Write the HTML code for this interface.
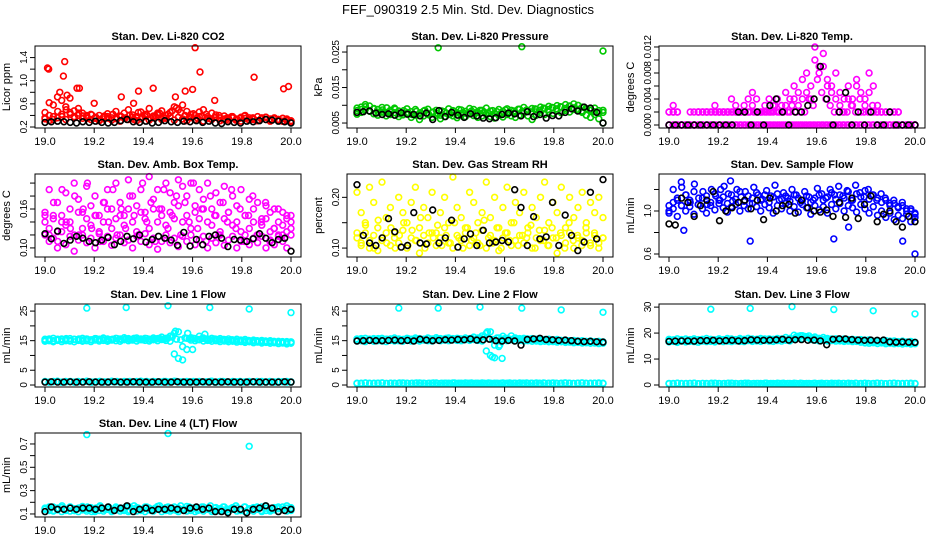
<!DOCTYPE html>
<html><head><meta charset="utf-8"><style>
html,body{margin:0;padding:0;background:#fff;}
svg{display:block;font-family:"Liberation Sans",sans-serif;}
</style></head><body>
<svg id="chart" width="936" height="540" viewBox="0 0 936 540">
<rect x="0" y="0" width="936" height="540" fill="#fff"/>
<text x="468" y="14" font-size="13" text-anchor="middle">FEF_090319  2.5 Min. Std. Dev. Diagnostics</text>
</svg>
<script>
// ---------- data ----------
const xTicks = [19.0, 19.2, 19.4, 19.6, 19.8, 20.0];
const xTickLabels = ["19.0","19.2","19.4","19.6","19.8","20.0"];

const co2A = [0.34,0.31,0.38,0.36,0.42,0.33,0.45,0.38,0.52,0.35,0.40,0.33,0.36,0.31,0.34,0.38,0.32,0.36,0.30,0.35,0.33,0.37,0.31,0.34,0.38,0.32,0.36,0.41,0.33,0.35,0.39,0.32,0.37,0.34,0.31,0.36,0.33,0.38,0.30,0.35,0.33,0.37,0.31,0.34,0.32,0.36,0.33,0.30,0.35,0.32,0.34,0.31,0.36,0.33,0.30,0.34,0.32,0.35,0.31,0.29];
const co2B = [0.45,0.62,0.58,0.72,0.66,0.55,0.70,0.48,0.40,0.44,0.38,0.42,0.35,0.40,0.37,0.43,0.36,0.47,0.39,0.44,0.50,0.41,0.38,0.46,0.42,0.52,0.39,0.44,0.48,0.40,0.45,0.55,0.50,0.58,0.47,0.42,0.40,0.46,0.50,0.38,0.44,0.41,0.36,0.39,0.35,0.38,0.34,0.37,0.40,0.36,0.33,0.38,0.35,0.37,0.34,0.36,0.33,0.35,0.32,0.30];
const co2C = [0.36,0.40,0.33,0.47,0.38,0.50,0.42,0.36,0.44,0.39,0.35,0.41,0.37,0.33,0.39,0.35,0.42,0.34,0.38,0.36,0.40,0.33,0.45,0.37,0.41,0.35,0.39,0.44,0.36,0.42,0.48,0.53,0.45,0.40,0.37,0.43,0.35,0.39,0.42,0.34,0.37,0.40,0.33,0.36,0.38,0.32,0.35,0.39,0.33,0.36,0.31,0.34,0.37,0.32,0.35,0.33,0.30,0.34,0.31];
const co2Out = [[19.01,1.22],[19.015,1.2],[19.08,1.33],[19.075,1.08],[19.13,0.87],[19.14,0.87],[19.61,1.57],[19.63,1.15],[19.85,1.06],[19.97,0.86],[19.99,0.9],[19.6,0.85],[19.57,0.82],[19.38,0.82],[19.44,0.87],[19.31,0.72],[19.53,0.72],[19.2,0.61],[19.36,0.61],[19.69,0.66],[19.06,0.8],[19.09,0.75]];
const co2K = [0.28,0.29,0.30,0.29,0.28,0.27,0.29,0.28,0.30,0.28,0.27,0.28,0.31,0.33,0.29,0.28,0.30,0.27,0.28,0.31,0.29,0.28,0.30,0.29,0.31,0.28,0.30,0.27,0.26,0.29,0.28,0.27,0.30,0.29,0.31,0.33,0.32,0.30,0.29,0.27];

const presA = [0.0085,0.0095,0.0102,0.0098,0.0090,0.0088,0.0094,0.0080,0.0086,0.0092,0.0084,0.0078,0.0090,0.0082,0.0088,0.0076,0.0084,0.0089,0.0080,0.0086,0.0072,0.0082,0.0090,0.0085,0.0079,0.0087,0.0083,0.0091,0.0088,0.0080,0.0086,0.0092,0.0084,0.0078,0.0088,0.0083,0.0090,0.0086,0.0080,0.0089,0.0094,0.0085,0.0091,0.0088,0.0095,0.0090,0.0097,0.0093,0.0099,0.0095,0.0102,0.0098,0.0104,0.0100,0.0095,0.0090,0.0086,0.0092,0.0085,0.0080];
const presB = [0.0075,0.0080,0.0088,0.0084,0.0076,0.0072,0.0081,0.0070,0.0074,0.0079,0.0068,0.0073,0.0077,0.0066,0.0072,0.0060,0.0070,0.0075,0.0066,0.0072,0.0062,0.0068,0.0074,0.0070,0.0065,0.0072,0.0068,0.0076,0.0071,0.0066,0.0070,0.0075,0.0068,0.0064,0.0072,0.0067,0.0074,0.0070,0.0066,0.0073,0.0078,0.0070,0.0060,0.0072,0.0080,0.0074,0.0082,0.0077,0.0084,0.0079,0.0086,0.0081,0.0088,0.0085,0.0080,0.0072,0.0066,0.0074,0.0062,0.0050];
const presC = [0.0092,0.0088,0.0096,0.0083,0.0091,0.0079,0.0087,0.0093,0.0081,0.0089,0.0076,0.0085,0.0080,0.0074,0.0083,0.0079,0.0086,0.0073,0.0081,0.0077,0.0084,0.0078,0.0075,0.0082,0.0088,0.0080,0.0076,0.0084,0.0079,0.0086,0.0081,0.0077,0.0085,0.0082,0.0078,0.0087,0.0080,0.0084,0.0089,0.0083,0.0087,0.0081,0.0090,0.0086,0.0092,0.0088,0.0094,0.0090,0.0096,0.0091,0.0097,0.0093,0.0089,0.0084,0.0091,0.0087,0.0082,0.0078,0.0086];
const presOut = [[19.33,0.0262],[19.67,0.0265],[20.0,0.0253]];
const presK = [0.0080,0.0082,0.0084,0.0078,0.0074,0.0076,0.0072,0.0079,0.0075,0.0074,0.0070,0.0078,0.0060,0.0085,0.0068,0.0080,0.0072,0.0066,0.0076,0.0070,0.0064,0.0062,0.0065,0.0074,0.0078,0.0076,0.0070,0.0082,0.0068,0.0074,0.0064,0.0071,0.0070,0.0080,0.0090,0.0084,0.0095,0.0092,0.0080,0.0050];

const tempA = [0.002,0.003,0.002,0,0,0,0.002,0.002,0,0.002,0.002,0.003,0.002,0.002,0.002,0.004,0.002,0.002,0.003,0.004,0.005,0.004,0.002,0.003,0.004,0.002,0.004,0.003,0.005,0.004,0.006,0.005,0.007,0.008,0.006,0.012,0.009,0.011,0.007,0.006,0.008,0.005,0.004,0.006,0.004,0.007,0.005,0.004,0.008,0.006,0.003,0.002,0.002,0.002,0.002,0.002,0,0,0,0];
const tempB = [0.002,0.002,0,0,0,0,0,0.002,0.002,0.002,0,0.002,0.002,0.002,0.002,0.002,0.003,0.002,0.002,0.002,0.003,0.002,0.002,0.002,0.002,0.003,0.002,0.002,0.003,0.002,0.004,0.003,0.004,0.005,0.004,0.010,0.008,0.009,0.006,0.005,0.004,0.003,0.002,0.004,0.003,0.006,0.002,0.003,0.005,0.002,0.002,0.002,0.002,0.002,0.002,0.002,0,0,0,0];
const tempC = [0,0.002,0.002,0,0,0.002,0,0.002,0.002,0.002,0.002,0.002,0.002,0.002,0.002,0.002,0.002,0.002,0.002,0.002,0.002,0.002,0.002,0.002,0.002,0.003,0.002,0.002,0.002,0.003,0.002,0.002,0.002,0.004,0.003,0.007,0.005,0.004,0.003,0.002,0.002,0.002,0.002,0.003,0.002,0.004,0.002,0.002,0.003,0.002,0.002,0,0,0,0,0,0,0,0];
const tempZero = [0,0,0,0,0,0,0,0,0,0,0,0,0,0,0,0,0,0,0,0,0,0,0,0,0,0,0,0,0,0,0,0,0,0,0,0,0,0,0,0,0,0,0,0,0,0,0,0,0,0,0,0,0,0,0,0,0,0,0,0];
const tempZero2 = [0,0,0,0,0,0,0,0,0,0,0,0,0,0,0,0,0,0,0,0,0,0,0,0,0,0,0,0,0,0,0,0,0,0,0,0,0,0,0,0,0,0,0,0,0,0,0,0,0,0,0,0,0,0,0,0,0,0,0];
const tempK = [0,0,0,0,0,0,0,0,0,0,0,0.002,0.002,0,0.002,0,0.003,0.004,0.002,0,0.002,0.002,0.003,0.004,0.009,0.004,0,0.002,0.005,0,0.002,0,0.002,0,0,0.002,0,0,0,0];

const ambA = [0.155,0.19,0.15,0.17,0.14,0.185,0.16,0.2,0.175,0.155,0.195,0.165,0.18,0.15,0.17,0.19,0.16,0.2,0.17,0.15,0.205,0.18,0.165,0.19,0.155,0.21,0.175,0.19,0.16,0.2,0.185,0.17,0.205,0.195,0.18,0.2,0.165,0.19,0.175,0.2,0.16,0.185,0.17,0.195,0.155,0.18,0.165,0.19,0.15,0.175,0.16,0.17,0.145,0.165,0.155,0.16,0.14,0.155,0.145,0.15];
const ambB = [0.14,0.13,0.145,0.125,0.15,0.135,0.14,0.12,0.155,0.13,0.145,0.135,0.15,0.125,0.14,0.16,0.13,0.145,0.15,0.135,0.16,0.14,0.125,0.155,0.145,0.13,0.16,0.14,0.15,0.135,0.155,0.145,0.165,0.14,0.15,0.13,0.155,0.145,0.16,0.14,0.135,0.15,0.125,0.145,0.155,0.135,0.14,0.125,0.15,0.13,0.14,0.12,0.135,0.145,0.125,0.13,0.12,0.135,0.125,0.14];
const ambC = [0.12,0.11,0.115,0.1,0.125,0.105,0.118,0.095,0.112,0.12,0.108,0.115,0.1,0.122,0.11,0.118,0.104,0.115,0.12,0.108,0.112,0.1,0.118,0.11,0.122,0.105,0.115,0.098,0.11,0.12,0.108,0.115,0.102,0.118,0.11,0.12,0.105,0.112,0.118,0.1,0.115,0.108,0.12,0.104,0.112,0.118,0.1,0.11,0.12,0.105,0.115,0.108,0.118,0.1,0.112,0.105,0.118,0.11,0.1,0.12];
const ambD = [0.15,0.12,0.17,0.11,0.19,0.14,0.13,0.18,0.12,0.16,0.2,0.13,0.15,0.11,0.17,0.14,0.19,0.12,0.16,0.13,0.18,0.15,0.12,0.2,0.14,0.17,0.11,0.16,0.19,0.13,0.15,0.18,0.12,0.17,0.14,0.2,0.13,0.16,0.11,0.18,0.15,0.12,0.17,0.14,0.19,0.13,0.16,0.11,0.15,0.18,0.12,0.14,0.17,0.11,0.13,0.16,0.12,0.15,0.13];
const ambK = [0.122,0.114,0.126,0.107,0.112,0.118,0.115,0.11,0.108,0.112,0.116,0.105,0.11,0.118,0.114,0.12,0.109,0.113,0.118,0.115,0.112,0.104,0.124,0.103,0.113,0.105,0.118,0.12,0.115,0.102,0.113,0.112,0.11,0.114,0.122,0.115,0.108,0.113,0.115,0.095];

const rhA = [0.12,0.11,0.13,0.1,0.125,0.095,0.115,0.13,0.105,0.12,0.11,0.135,0.1,0.12,0.115,0.09,0.125,0.11,0.13,0.105,0.12,0.14,0.11,0.1,0.125,0.115,0.13,0.105,0.12,0.11,0.135,0.1,0.125,0.115,0.095,0.12,0.13,0.105,0.115,0.125,0.11,0.13,0.1,0.12,0.115,0.135,0.105,0.12,0.09,0.125,0.11,0.13,0.1,0.12,0.115,0.13,0.105,0.125,0.11,0.12];
const rhB = [0.21,0.17,0.15,0.22,0.19,0.14,0.23,0.16,0.18,0.13,0.2,0.17,0.15,0.19,0.22,0.14,0.18,0.16,0.21,0.13,0.17,0.2,0.15,0.24,0.18,0.16,0.14,0.21,0.19,0.15,0.17,0.23,0.16,0.2,0.14,0.18,0.22,0.15,0.19,0.17,0.21,0.14,0.18,0.16,0.2,0.23,0.15,0.19,0.17,0.22,0.14,0.2,0.16,0.18,0.21,0.15,0.19,0.17,0.2,0.16];
const rhC = [0.13,0.105,0.145,0.115,0.1,0.155,0.12,0.11,0.14,0.1,0.125,0.15,0.105,0.135,0.115,0.16,0.1,0.13,0.12,0.145,0.105,0.125,0.11,0.15,0.12,0.1,0.14,0.115,0.13,0.105,0.155,0.12,0.11,0.14,0.1,0.13,0.115,0.15,0.105,0.125,0.12,0.145,0.1,0.135,0.115,0.105,0.14,0.12,0.13,0.1,0.15,0.115,0.125,0.105,0.14,0.11,0.13,0.1,0.12];
const rhK = [0.225,0.125,0.11,0.105,0.12,0.158,0.132,0.102,0.105,0.17,0.11,0.108,0.175,0.11,0.12,0.155,0.102,0.118,0.128,0.105,0.135,0.11,0.112,0.115,0.112,0.215,0.18,0.105,0.162,0.118,0.122,0.19,0.105,0.165,0.125,0.095,0.112,0.21,0.118,0.235];

const flowA = [1.0,1.08,1.12,1.05,1.15,1.1,1.18,1.06,1.12,1.14,1.08,1.16,1.1,1.13,1.07,1.15,1.11,1.18,1.09,1.14,1.12,1.17,1.1,1.15,1.08,1.13,1.16,1.11,1.14,1.09,1.15,1.12,1.1,1.14,1.08,1.12,1.15,1.1,1.13,1.17,1.11,1.15,1.12,1.18,1.1,1.16,1.13,1.19,1.11,1.15,1.12,1.08,1.1,1.05,1.07,1.03,1.05,1.0,1.02,0.97];
const flowB = [0.98,1.02,0.95,1.05,1.0,1.04,0.97,1.06,1.02,0.98,1.05,1.01,1.07,1.03,0.99,1.04,1.06,1.0,1.05,1.02,1.07,1.04,1.0,1.06,1.03,0.98,1.05,1.02,1.07,1.0,1.04,0.99,1.06,1.03,0.97,1.05,1.01,1.04,0.98,1.06,1.02,1.07,1.0,1.05,1.03,0.99,1.06,1.02,0.98,1.04,0.96,1.0,0.94,0.98,0.92,0.96,0.93,0.97,0.9,0.94];
const flowC = [1.05,1.2,1.1,1.22,1.15,1.08,1.25,1.12,1.18,1.06,1.2,1.14,1.1,1.23,1.16,1.09,1.2,1.13,1.18,1.07,1.22,1.15,1.11,1.19,1.14,1.24,1.1,1.17,1.12,1.2,1.15,1.08,1.18,1.13,1.1,1.21,1.16,1.12,1.2,1.15,1.23,1.14,1.19,1.1,1.24,1.17,1.13,1.2,1.15,1.1,1.16,1.12,1.07,1.1,1.04,1.08,1.02,1.0,0.98];
const flowOut = [[19.33,0.72],[19.67,0.74],[19.95,0.72],[20.0,0.6],[19.5,1.38],[19.05,1.27],[19.06,0.82],[19.73,0.85],[19.21,1.2],[19.25,1.28]];
const flowK = [0.88,0.87,1.12,1.08,0.95,1.05,1.1,1.18,0.91,1.0,1.03,1.08,1.1,1.02,1.1,0.92,1.12,1.0,1.05,1.06,0.98,1.1,1.03,1.0,0.99,1.01,0.95,1.08,0.94,1.12,0.93,1.06,1.14,0.9,0.97,1.0,0.9,0.85,0.95,0.9];

const l1A = [15.5,15.2,15.8,15.4,15.6,15.3,15.7,15.5,15.4,15.8,15.6,15.3,15.7,15.5,15.9,15.6,15.4,15.8,15.6,16.0,15.7,15.5,15.9,15.6,15.8,15.5,15.9,15.7,16.2,15.8,16.5,17.5,18.0,13.0,15.8,16.0,15.7,16.5,15.9,15.6,15.8,15.5,15.7,15.4,15.6,15.3,15.5,15.2,15.4,15.0,15.2,14.9,15.1,14.8,15.0,14.6,14.8,14.5,14.7,14.4];
const l1B = [14.8,15.0,14.6,15.1,14.7,15.0,14.9,14.6,15.1,14.8,15.0,14.7,15.2,14.9,15.1,14.8,15.2,15.0,14.8,15.3,15.0,15.2,14.9,15.3,15.1,14.9,15.3,15.0,15.4,15.1,14.8,10.5,9.0,8.5,12.0,15.2,15.0,15.3,14.9,15.1,14.8,15.0,14.7,14.9,14.6,14.8,14.5,14.7,14.4,14.6,14.3,14.5,14.2,14.4,14.1,14.3,14.0,14.2,13.9,14.1];
const l1C = [15.2,15.6,15.0,15.5,15.3,15.7,15.1,15.4,15.6,15.2,15.5,15.3,15.7,15.4,15.6,15.2,15.5,15.7,15.3,15.6,15.4,15.8,15.5,15.3,15.7,15.4,15.6,15.8,15.5,15.9,16.2,15.5,15.3,15.9,15.6,15.8,15.4,15.7,15.5,15.3,15.6,15.2,15.4,15.1,15.3,15.0,15.2,14.9,15.1,14.8,15.0,14.7,14.9,14.6,14.8,14.5,14.7,14.4,14.6];
const l1Low = [1.2,1.0,1.1,1.3,1.0,1.2,1.1,1.0,1.2,1.1,1.3,1.0,1.1,1.2,1.0,1.1,1.3,1.1,1.0,1.2,1.1,1.0,1.2,1.3,1.1,1.0,1.2,1.1,1.0,1.2,1.1,1.3,1.0,1.1,1.2,1.0,1.1,1.2,1.0,1.1,1.3,1.0,1.2,1.1,1.0,1.2,1.1,1.0,1.1,1.2,1.0,1.1,1.2,1.0,1.1,1.0,1.2,1.1,1.0,1.1];
const l1Low2 = [1.1,1.0,1.2,1.1,1.0,1.1,1.2,1.0,1.1,1.1,1.2,1.0,1.1,1.2,1.1,1.0,1.1,1.2,1.0,1.1,1.2,1.1,1.0,1.1,1.2,1.0,1.1,1.1,1.2,1.0,1.1,1.2,1.1,1.0,1.1,1.2,1.0,1.1,1.1,1.2,1.0,1.1,1.2,1.1,1.0,1.1,1.2,1.0,1.1,1.1,1.2,1.0,1.1,1.2,1.1,1.0,1.1,1.2,1.0];
const l1Out = [[19.17,26.0],[19.33,26.2],[19.5,26.8],[19.67,26.2],[19.83,25.7],[20.0,24.5],[19.53,18.2],[19.58,17.5],[19.65,17.2],[19.6,12.0]];
const l1K = [1.0,1.1,1.0,1.0,1.1,1.0,1.0,1.1,1.0,1.0,1.0,1.1,1.0,1.0,1.1,1.0,1.0,1.0,1.1,1.0,1.0,1.1,1.0,1.0,1.0,1.1,1.0,1.0,1.0,1.1,1.0,1.0,1.0,1.1,1.0,1.0,1.0,1.0,1.1,1.0];

const l2A = [15.6,15.3,15.8,15.5,15.7,15.4,15.8,15.5,15.6,15.9,15.6,15.4,15.8,15.5,15.9,15.7,15.5,15.9,15.6,16.0,15.7,15.6,15.9,15.7,15.8,15.6,15.9,15.7,16.2,15.9,16.6,17.5,18.0,13.5,15.9,16.5,15.8,16.6,15.9,15.7,15.8,15.6,15.7,15.5,15.6,15.4,15.5,15.3,15.4,15.1,15.2,15.0,15.1,14.9,15.0,14.7,14.9,14.6,14.8,14.5];
const l2B = [14.9,15.0,14.7,15.1,14.8,15.0,14.9,14.7,15.1,14.9,15.0,14.8,15.2,14.9,15.1,14.9,15.2,15.0,14.9,15.3,15.0,15.2,15.0,15.3,15.1,15.0,15.3,15.1,15.4,15.1,14.9,11.5,10.0,9.2,13.0,15.2,15.0,15.3,15.0,15.1,14.9,15.0,14.8,14.9,14.7,14.8,14.6,14.7,14.5,14.6,14.4,14.5,14.3,14.4,14.2,14.3,14.1,14.2,14.0,14.1];
const l2C = [15.3,15.7,15.1,15.5,15.4,15.7,15.2,15.5,15.6,15.3,15.5,15.4,15.7,15.5,15.6,15.3,15.5,15.7,15.4,15.6,15.5,15.8,15.5,15.4,15.7,15.5,15.6,15.8,15.5,15.9,16.3,15.6,15.4,15.9,15.6,15.8,15.5,15.7,15.5,15.4,15.6,15.3,15.4,15.2,15.3,15.1,15.2,15.0,15.1,14.9,15.0,14.8,14.9,14.7,14.8,14.6,14.7,14.5,14.6];
const l2Low = [0.6,0.5,0.7,0.6,0.5,0.6,0.7,0.5,0.6,0.6,0.5,0.7,0.6,0.5,0.6,0.7,0.6,0.5,0.6,0.7,0.5,0.6,0.6,0.7,0.5,0.6,0.7,0.6,0.5,0.6,0.7,0.5,0.6,0.6,0.5,0.7,0.6,0.5,0.6,0.7,0.6,0.5,0.6,0.7,0.5,0.6,0.6,0.7,0.5,0.6,0.7,0.6,0.5,0.6,0.7,0.5,0.6,0.6,0.5,0.6];
const l2Low2 = [0.5,0.6,0.7,0.5,0.6,0.6,0.7,0.5,0.6,0.5,0.7,0.6,0.5,0.6,0.7,0.6,0.5,0.6,0.7,0.5,0.6,0.6,0.5,0.7,0.6,0.5,0.6,0.7,0.6,0.5,0.6,0.7,0.5,0.6,0.6,0.5,0.7,0.6,0.5,0.6,0.7,0.6,0.5,0.6,0.7,0.5,0.6,0.6,0.5,0.7,0.6,0.5,0.6,0.7,0.6,0.5,0.6,0.7,0.5];
const l2Out = [[19.17,26.0],[19.33,26.0],[19.5,26.4],[19.67,26.0],[19.83,25.4],[20.0,24.6],[19.53,18.0],[19.55,9.5],[19.59,9.0],[19.58,13.5]];
const l2K = [14.9,15.0,15.1,15.0,15.0,15.1,15.2,15.0,15.1,14.9,15.5,15.2,15.0,15.1,15.3,15.2,15.4,15.3,15.6,15.2,15.3,15.5,15.0,14.9,15.1,14.9,13.5,15.4,15.6,15.8,15.4,15.3,15.1,15.2,15.0,14.8,14.7,14.8,14.6,14.5];

const l3A = [17.6,17.2,17.8,17.5,17.7,17.4,17.8,17.5,17.6,17.9,17.6,17.4,17.8,17.5,17.9,17.7,17.5,17.9,17.6,18.0,17.7,17.6,17.9,17.7,17.8,17.6,17.9,17.7,18.3,18.0,19.2,18.8,19.0,18.6,18.2,18.5,18.0,18.3,17.9,17.7,17.8,17.6,17.7,17.5,17.6,17.4,17.5,17.3,17.4,16.8,17.0,16.8,17.1,16.9,17.0,16.7,16.9,16.6,16.8,16.5];
const l3B = [16.6,16.8,16.4,16.9,16.6,16.8,16.7,16.5,16.9,16.7,16.8,16.6,17.0,16.7,16.9,16.7,17.0,16.8,16.7,17.1,16.8,17.0,16.8,17.1,16.9,16.8,17.1,16.9,17.2,17.0,17.8,18.2,17.9,18.4,17.5,17.2,17.0,17.3,17.0,17.1,16.9,17.0,16.8,16.9,16.7,16.8,16.5,16.2,16.1,16.3,16.0,16.2,15.9,16.1,15.9,16.0,15.8,16.0,15.8,15.9];
const l3C = [17.1,17.4,16.9,17.3,17.0,17.5,17.1,17.3,17.4,17.1,17.3,17.2,17.5,17.2,17.4,17.1,17.4,17.5,17.2,17.4,17.3,17.6,17.3,17.2,17.5,17.3,17.4,17.6,17.4,17.7,18.5,19.0,18.7,18.9,18.1,17.8,17.6,17.8,17.5,17.4,17.5,17.3,17.4,17.2,17.3,17.1,17.0,16.8,16.9,16.7,16.8,16.6,16.7,16.5,16.6,16.4,16.5,16.3,16.4];
const l3Low = [0.6,0.5,0.7,0.6,0.5,0.6,0.7,0.5,0.6,0.6,0.5,0.7,0.6,0.5,0.6,0.7,0.6,0.5,0.6,0.7,0.5,0.6,0.6,0.7,0.5,0.6,0.7,0.6,0.5,0.6,0.7,0.5,0.6,0.6,0.5,0.7,0.6,0.5,0.6,0.7,0.6,0.5,0.6,0.7,0.5,0.6,0.6,0.7,0.5,0.6,0.7,0.6,0.5,0.6,0.7,0.5,0.6,0.6,0.5,0.6];
const l3Low2 = [0.5,0.6,0.7,0.5,0.6,0.6,0.7,0.5,0.6,0.5,0.7,0.6,0.5,0.6,0.7,0.6,0.5,0.6,0.7,0.5,0.6,0.6,0.5,0.7,0.6,0.5,0.6,0.7,0.6,0.5,0.6,0.7,0.5,0.6,0.6,0.5,0.7,0.6,0.5,0.6,0.7,0.6,0.5,0.6,0.7,0.5,0.6,0.6,0.5,0.7,0.6,0.5,0.6,0.7,0.6,0.5,0.6,0.7,0.5];
const l3Out = [[19.17,29.2],[19.33,29.5],[19.5,30.2],[19.67,29.1],[19.83,28.6],[20.0,27.4]];
const l3K = [16.8,16.9,17.0,17.0,16.9,17.1,17.1,17.2,17.0,17.1,17.2,17.0,17.1,17.4,17.3,17.2,17.3,17.4,17.6,17.3,17.4,17.5,17.2,17.3,17.0,15.5,17.6,17.8,17.7,17.5,17.3,17.2,17.3,17.2,17.3,16.6,16.5,16.6,16.5,16.4];

const l4A = [0.15,0.13,0.16,0.14,0.155,0.13,0.16,0.145,0.15,0.165,0.14,0.155,0.13,0.16,0.145,0.155,0.135,0.16,0.15,0.14,0.165,0.145,0.155,0.135,0.16,0.15,0.14,0.165,0.145,0.155,0.14,0.16,0.15,0.135,0.165,0.145,0.155,0.14,0.16,0.15,0.135,0.155,0.145,0.16,0.14,0.155,0.15,0.135,0.16,0.145,0.155,0.14,0.16,0.15,0.135,0.155,0.145,0.16,0.15,0.155];
const l4B = [0.12,0.14,0.125,0.135,0.12,0.14,0.125,0.13,0.12,0.135,0.125,0.14,0.12,0.13,0.125,0.14,0.12,0.135,0.125,0.13,0.12,0.14,0.125,0.13,0.12,0.135,0.125,0.14,0.12,0.13,0.125,0.135,0.12,0.14,0.125,0.13,0.12,0.135,0.125,0.14,0.12,0.13,0.125,0.135,0.12,0.14,0.125,0.13,0.12,0.135,0.125,0.14,0.12,0.13,0.125,0.135,0.12,0.14,0.125,0.13];
const l4C = [0.14,0.16,0.13,0.15,0.17,0.14,0.16,0.13,0.15,0.14,0.16,0.12,0.15,0.17,0.14,0.16,0.13,0.15,0.14,0.16,0.13,0.17,0.15,0.14,0.16,0.13,0.15,0.17,0.14,0.16,0.15,0.13,0.17,0.14,0.16,0.15,0.13,0.16,0.14,0.17,0.15,0.13,0.16,0.14,0.15,0.17,0.13,0.16,0.14,0.15,0.16,0.13,0.17,0.14,0.15,0.16,0.14,0.17,0.15];
const l4Out = [[19.17,0.78],[19.5,0.79],[19.83,0.68]];
const l4K = [0.12,0.16,0.14,0.14,0.15,0.14,0.15,0.15,0.14,0.15,0.16,0.13,0.15,0.17,0.12,0.14,0.15,0.13,0.14,0.14,0.15,0.14,0.13,0.15,0.16,0.14,0.15,0.12,0.12,0.11,0.14,0.14,0.11,0.14,0.15,0.17,0.15,0.12,0.13,0.14];

// ---------- drawing ----------
const NS = "http://www.w3.org/2000/svg";
const svg = document.getElementById("chart");
const COLS = [35, 347, 659];
const BOXW = 266;
const ROWS = [[46,128],[174,257],[304,387],[433,517]];

function mk(tag, attrs, parent) {
  const e = document.createElementNS(NS, tag);
  for (const k in attrs) e.setAttribute(k, attrs[k]);
  (parent || svg).appendChild(e);
  return e;
}

function drawPanel(p) {
  const L = COLS[p.col], R = L + BOXW, T = ROWS[p.row][0], B = ROWS[p.row][1];
  const g = mk("g", {});
  
  
  const xs = v => L + 10 + (v - 19) * (BOXW - 20);
  const ys = v => B - (v - p.y0) / (p.y1 - p.y0) * (B - T);
  const t = mk("text", {x: (L + R) / 2, y: T - 6, "font-size": 11, "font-weight": "bold", "text-anchor": "middle"}, g);
  t.textContent = p.title;
  
  
  const pg = mk("g", {fill: "none", "stroke-width": 1.6}, g);
  
  
  function dot(x, y, c) {
    const cy = ys(y);
    if (cy < T - 2 || cy > B + 2) return;
    const e = mk("circle", {cx: xs(x).toFixed(1), cy: cy.toFixed(1), r: 2.9, stroke: c}, pg);
    
    
  }
  p.series.forEach(s => {
    if (s.vals) {
      const n = s.vals.length;
      s.vals.forEach((v, i) => dot(19 + i / (n - 1), v, s.color));
    } else {
      s.pts.forEach(q => dot(q[0], q[1], s.color));
    }
  });
  const box = mk("rect", {x: L, y: T, width: BOXW, height: B - T, fill: "none", stroke: "#000", "stroke-width": 1}, g);
  
  
  const xa = mk("g", {}, g);
  
  
  xTicks.forEach((v, i) => {
    const x = xs(v);
    mk("line", {x1: x, x2: x, y1: B, y2: B + 5, stroke: "#000"}, xa);
    const tl = mk("text", {x: x, y: B + 17, "font-size": 11, "text-anchor": "middle"}, xa);
    tl.textContent = xTickLabels[i];
    
    
  });
  const ya = mk("g", {}, g);
  
  
  p.ticks.forEach((v, i) => {
    const y = ys(v);
    mk("line", {x1: L - 5, x2: L, y1: y, y2: y, stroke: "#000"}, ya);
    const lab = p.labels[i];
    if (lab) {
      const tx = L - 8;
      const tl = mk("text", {x: tx, y: y, "font-size": 10, "letter-spacing": "-0.4", "text-anchor": "middle", transform: `rotate(-90 ${tx} ${y})`}, ya);
      tl.textContent = lab;
      
      
    }
  });
  const tx = L - 25, ty = (T + B) / 2;
  const yt = mk("text", {x: tx, y: ty, "font-size": 11, "text-anchor": "middle", transform: `rotate(-90 ${tx} ${ty})`}, g);
  yt.textContent = p.ylab;
  
  
}

const RED = "#ff0000", GRN = "#00c800", MAG = "#ff00ff", YEL = "#ffff00", BLU = "#0000ff", CYN = "#00ffff", BLK = "#000000";

drawPanel({name:"panel-co2", col:0, row:0, title:"Stan. Dev. Li-820 CO2", ylab:"Licor ppm", y0:0.183, y1:1.6,
  ticks:[0.2,0.4,0.6,0.8,1.0,1.2,1.4], labels:["0.2","","0.6","","1.0","","1.4"],
  series:[{vals:co2B,color:RED},{vals:co2A,color:RED},{vals:co2C,color:RED},{pts:co2Out,color:RED},{vals:co2K,color:BLK}]});
drawPanel({name:"panel-pressure", col:1, row:0, title:"Stan. Dev. Li-820 Pressure", ylab:"kPa", y0:0.0036, y1:0.0267,
  ticks:[0.005,0.010,0.015,0.020,0.025], labels:["0.005","","0.015","","0.025"],
  series:[{vals:presA,color:GRN},{vals:presB,color:GRN},{vals:presC,color:GRN},{pts:presOut,color:GRN},{vals:presK,color:BLK}]});
drawPanel({name:"panel-li820-temp", col:2, row:0, title:"Stan. Dev. Li-820 Temp.", ylab:"degrees C", y0:-0.00046, y1:0.01215,
  ticks:[0,0.002,0.004,0.006,0.008,0.010,0.012], labels:["0.000","","0.004","","0.008","","0.012"],
  series:[{vals:tempZero,color:MAG},{vals:tempZero2,color:MAG},{vals:tempB,color:MAG},{vals:tempC,color:MAG},{vals:tempA,color:MAG},{vals:tempK,color:BLK}]});
drawPanel({name:"panel-amb-box-temp", col:0, row:1, title:"Stan. Dev. Amb. Box Temp.", ylab:"degrees C", y0:0.086, y1:0.214,
  ticks:[0.10,0.12,0.14,0.16,0.18,0.20], labels:["0.10","","","0.16","",""],
  series:[{vals:ambA,color:MAG},{vals:ambB,color:MAG},{vals:ambC,color:MAG},{vals:ambD,color:MAG},{vals:ambK,color:BLK}]});
drawPanel({name:"panel-gas-stream-rh", col:1, row:1, title:"Stan. Dev. Gas Stream RH", ylab:"percent", y0:0.0824, y1:0.246,
  ticks:[0.10,0.15,0.20], labels:["0.10","","0.20"],
  series:[{vals:rhB,color:YEL},{vals:rhA,color:YEL},{vals:rhC,color:YEL},{vals:rhK,color:BLK}]});
drawPanel({name:"panel-sample-flow", col:2, row:1, title:"Stan. Dev. Sample Flow", ylab:"mL/min", y0:0.572, y1:1.344,
  ticks:[0.6,0.8,1.0,1.2], labels:["0.6","","1.0",""],
  series:[{vals:flowA,color:BLU},{vals:flowB,color:BLU},{vals:flowC,color:BLU},{pts:flowOut,color:BLU},{vals:flowK,color:BLK}]});
drawPanel({name:"panel-line1-flow", col:0, row:2, title:"Stan. Dev. Line 1 Flow", ylab:"mL/min", y0:-0.67, y1:27.4,
  ticks:[0,5,10,15,20,25], labels:["0","5","","15","","25"],
  series:[{vals:l1A,color:CYN},{vals:l1B,color:CYN},{vals:l1C,color:CYN},{vals:l1Low,color:CYN},{vals:l1Low2,color:CYN},{pts:l1Out,color:CYN},{vals:l1K,color:BLK}]});
drawPanel({name:"panel-line2-flow", col:1, row:2, title:"Stan. Dev. Line 2 Flow", ylab:"mL/min", y0:-0.67, y1:27.4,
  ticks:[0,5,10,15,20,25], labels:["0","5","","15","","25"],
  series:[{vals:l2A,color:CYN},{vals:l2B,color:CYN},{vals:l2C,color:CYN},{vals:l2Low,color:CYN},{vals:l2Low2,color:CYN},{pts:l2Out,color:CYN},{vals:l2K,color:BLK}]});
drawPanel({name:"panel-line3-flow", col:2, row:2, title:"Stan. Dev. Line 3 Flow", ylab:"mL/min", y0:-0.77, y1:31.2,
  ticks:[0,10,20,30], labels:["0","10","20","30"],
  series:[{vals:l3A,color:CYN},{vals:l3B,color:CYN},{vals:l3C,color:CYN},{vals:l3Low,color:CYN},{vals:l3Low2,color:CYN},{pts:l3Out,color:CYN},{vals:l3K,color:BLK}]});
drawPanel({name:"panel-line4-flow", col:0, row:3, title:"Stan. Dev. Line 4 (LT) Flow", ylab:"mL/min", y0:0.074, y1:0.794,
  ticks:[0.1,0.2,0.3,0.4,0.5,0.6,0.7], labels:["0.1","","0.3","","0.5","","0.7"],
  series:[{vals:l4A,color:CYN},{vals:l4B,color:CYN},{vals:l4C,color:CYN},{pts:l4Out,color:CYN},{vals:l4K,color:BLK}]});
</script>
</body></html>
